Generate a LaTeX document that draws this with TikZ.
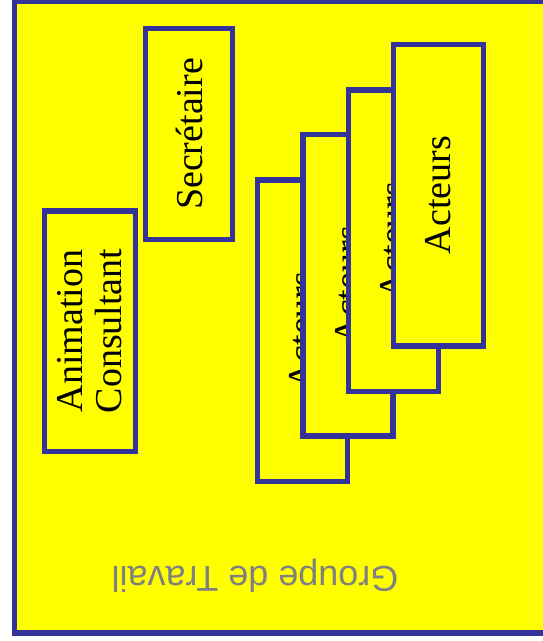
\documentclass[tikz,border=0pt]{standalone}
\usepackage{fontspec}
\setmainfont{Liberation Serif}
\newfontfamily\groupfont{Liberation Sans}
\usepackage{tikz}
\usetikzlibrary{positioning}
\definecolor{bordbleu}{RGB}{51,51,153}
\definecolor{fondjaune}{RGB}{255,255,0}
\tikzset{>=latex}
\tikzstyle{cadre}=[draw=bordbleu,fill=fondjaune,line width=5.5pt]
\tikzstyle{boite}=[cadre,rotate=90,inner sep=0pt,align=center,font=\fontsize{38}{39}\selectfont]
\tikzstyle{acteur}=[boite,minimum width=301.5pt,minimum height=90pt]

\begin{document}
\begin{tikzpicture}[x=1pt,y=-1pt]
      \useasboundingbox (0,0) rectangle (542,641);
      \fill[white] (0,0) rectangle (542,641);
      \draw[cadre] (14.5,1) rectangle (548,633);
      \node[rotate=180,text=gray,font=\groupfont\fontsize{36}{40}\selectfont] (groupe) at (255,576) {Groupe de Travail};
      \node[boite,minimum width=240.5pt,minimum height=91pt] (animation) at (90,331) {Animation\\Consultant};
      \node[boite,minimum width=211pt,minimum height=87pt] (secretaire) at (189,134) {Secrétaire};
      % les acteurs, empiles
      \node[acteur] (acteur1) at (302.5,330.75) {Acteurs};
      \node[acteur] (acteur2) at (348,285.25) {Acteurs};
      \node[acteur] (acteur3) at (393.25,240.75) {Acteurs};
      \node[acteur] (acteur4) at (438.5,195) {Acteurs};
    \end{tikzpicture}
\end{document}
